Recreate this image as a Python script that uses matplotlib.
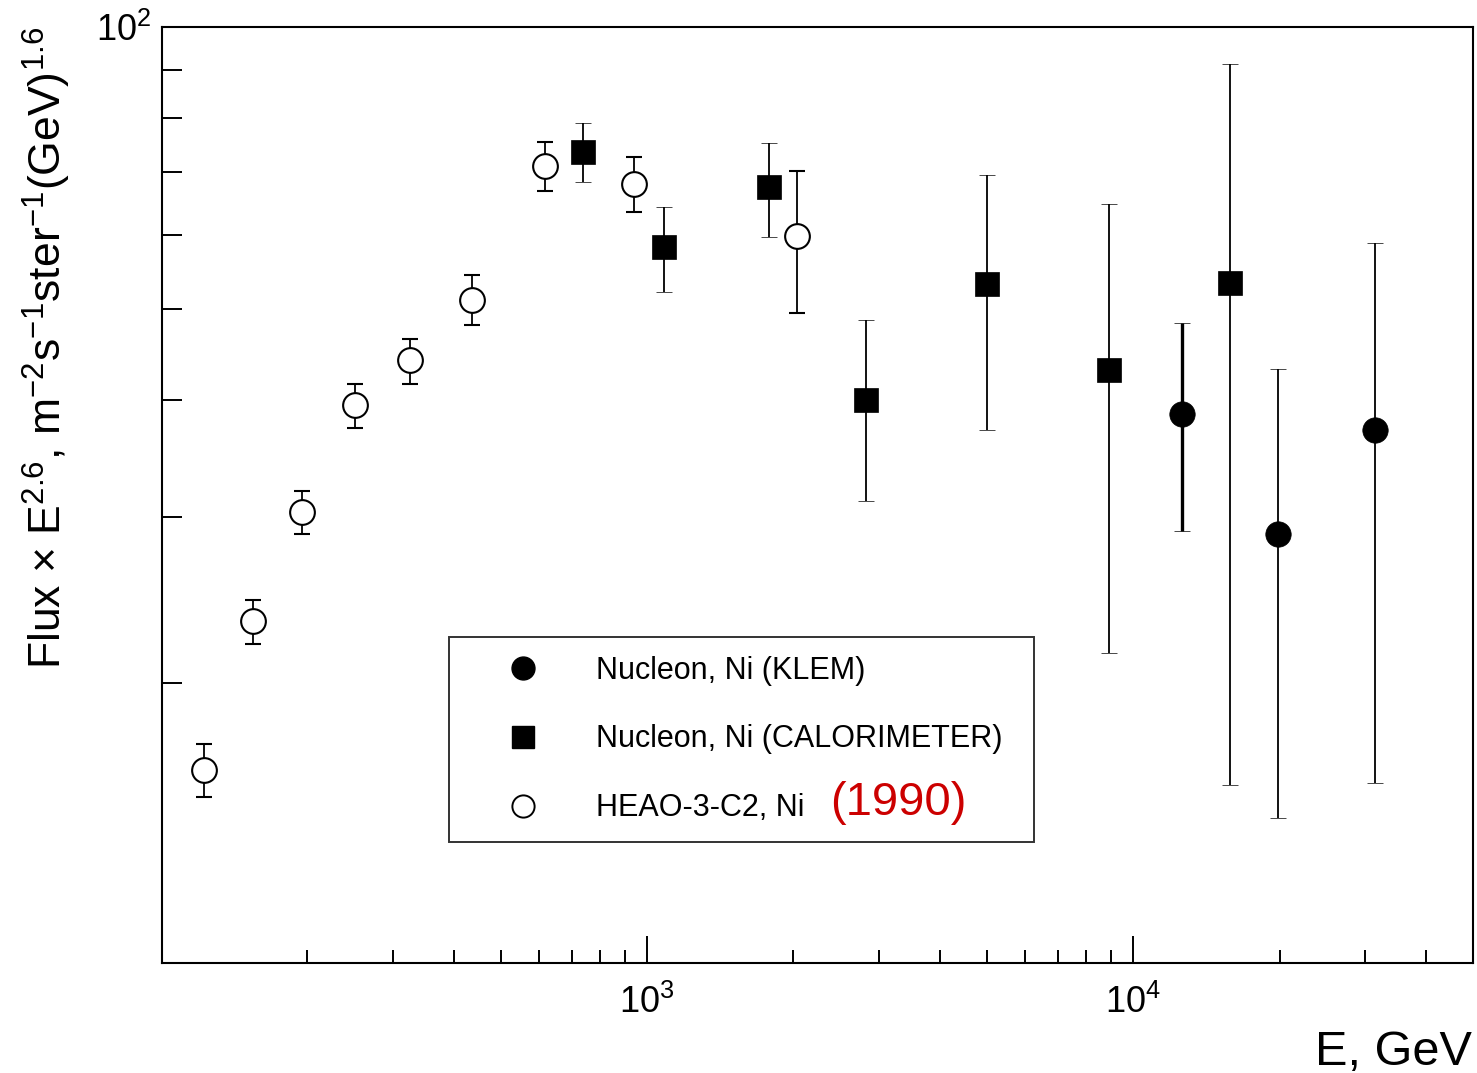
"""Ni flux x E^2.6: NUCLEON (KLEM, calorimeter) vs HEAO-3-C2."""

import matplotlib.pyplot as plt
from matplotlib.lines import Line2D
from matplotlib.ticker import LogLocator, NullFormatter

plt.rcParams["font.family"] = ["Liberation Sans", "DejaVu Sans"]
plt.rcParams["mathtext.fontset"] = "custom"
plt.rcParams["mathtext.rm"] = "Liberation Sans"
plt.rcParams["mathtext.it"] = "Liberation Sans:italic"
plt.rcParams["mathtext.bf"] = "Liberation Sans:bold"

# HEAO-3-C2, Ni (open circles)
heao_e = [122.6, 154.6, 195.0, 250.8, 325.3, 436.4, 616.7, 940.3, 2035.0]
heao_flux = [16.16, 23.25, 30.40, 39.56, 44.17, 51.22, 71.04, 67.96, 59.94]
heao_lo = [15.09, 21.97, 28.80, 37.37, 41.66, 48.17, 66.81, 63.43, 49.61]
heao_hi = [17.22, 24.48, 32.01, 41.66, 46.52, 54.46, 75.37, 72.65, 70.20]

# NUCLEON, Ni (CALORIMETER) (filled squares)
calo_e = [738.5, 1083.8, 1782.0, 2823.0, 5008.0, 8925.0, 15830.0]
calo_flux = [73.55, 58.21, 67.46, 40.05, 53.27, 43.10, 53.40]
calo_lo = [68.32, 52.12, 59.65, 31.24, 37.19, 21.49, 15.57]
calo_hi = [78.97, 64.21, 75.17, 48.76, 69.50, 64.69, 91.29]

# NUCLEON, Ni (KLEM) (filled circles)
klem_e = [12615.0, 19880.0, 31470.0]
klem_flux = [38.70, 28.80, 37.19]
klem_lo = [29.02, 14.36, 15.65]
klem_hi = [48.40, 43.21, 58.78]

legend_labels = ["Nucleon, Ni (KLEM)", "Nucleon, Ni (CALORIMETER)", "HEAO-3-C2, Ni"]

W, H = 1477, 1073


def _yerr(val, lo, hi):
    return [[v - l for v, l in zip(val, lo)], [h - v for v, h in zip(val, hi)]]


fig = plt.figure(figsize=(W / 100, H / 100), dpi=100)
ax = fig.add_axes([162 / W, 1 - 963 / H, (1473 - 162) / W, (963 - 27) / H])
ax.set_xscale("log")
ax.set_yscale("log")

err_kw = dict(ls="none", ecolor="black", elinewidth=1.3, capsize=5.8, capthick=1.8)

ax.errorbar(heao_e, heao_flux, yerr=_yerr(heao_flux, heao_lo, heao_hi), marker="o",
            ms=17.8, mfc="white", mec="black", mew=1.5, zorder=3, **err_kw)
ax.errorbar(calo_e, calo_flux, yerr=_yerr(calo_flux, calo_lo, calo_hi), marker="s",
            ms=17.8, mfc="black", mec="black", mew=0.5, zorder=3, **err_kw)
klem = ax.errorbar(klem_e, klem_flux, yerr=_yerr(klem_flux, klem_lo, klem_hi), marker="o",
                   ms=18.3, mfc="black", mec="black", mew=0.5, zorder=3, **err_kw)
klem[2][0].set_linewidths([2.4, 1.3, 1.3])

ax.set_xlim(100.5, 5e4)
ax.set_ylim(10.05, 100)

for axis in (ax.xaxis, ax.yaxis):
    axis.set_major_locator(LogLocator(base=10))
    axis.set_minor_locator(LogLocator(base=10, subs=range(2, 10)))
    axis.set_minor_formatter(NullFormatter())

ax.tick_params(which="both", direction="in", top=False, right=False, width=1.4)
ax.tick_params(axis="x", which="major", length=19.4, pad=16, labelsize=26)
ax.tick_params(axis="x", which="minor", length=9.4)
ax.tick_params(axis="y", which="major", length=14.4, pad=8, labelsize=26)
ax.tick_params(axis="y", which="minor", length=14.4)
for sp in ax.spines.values():
    sp.set_linewidth(1.5)

fig.text(62 / W, 1 - 27 / H,
         "Flux × E$^{2.6}$, m$^{-2}$s$^{-1}$ster$^{-1}$(GeV)$^{1.6}$",
         rotation=90, rotation_mode="anchor", ha="right", va="baseline", fontsize=32)
fig.text(1472 / W, 1 - 1065 / H, "E, GeV", ha="right", va="baseline", fontsize=35)

handles = [
    Line2D([], [], ls="none", marker="o", ms=16.5, mfc="black", mec="black"),
    Line2D([], [], ls="none", marker="s", ms=16, mfc="black", mec="black"),
    Line2D([], [], ls="none", marker="o", ms=16, mfc="white", mec="black", mew=1.4),
]
leg = ax.legend(handles, legend_labels, loc="upper left",
                bbox_to_anchor=(449 / W, 1 - 838 / H, (1034 - 449) / W, (838 - 637) / H),
                bbox_transform=fig.transFigure, mode="expand", borderaxespad=0,
                fontsize=22, frameon=True, fancybox=False, shadow=False,
                borderpad=0.61, handlelength=3.6, handletextpad=0.59, labelspacing=1.27)
leg.get_frame().set_edgecolor("black")
leg.get_frame().set_linewidth(1.4)

fig.text(830 / W, 1 - 815 / H, "(1990)", color="#cc0000", fontsize=34, va="baseline")

fig.savefig("out.png", dpi=100)
